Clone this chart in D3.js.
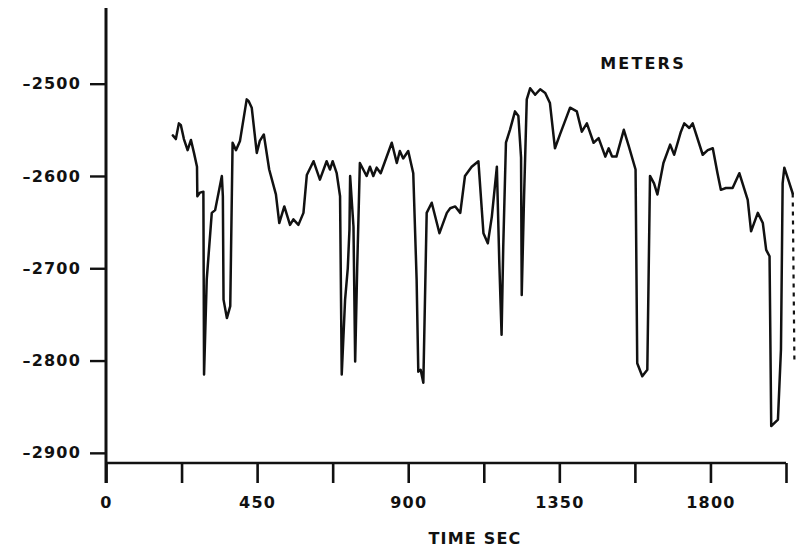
<!DOCTYPE html>
<html>
<head>
<meta charset="utf-8">
<script src="https://cdn.jsdelivr.net/npm/d3@7"></script>
<style>
  html, body { margin: 0; padding: 0; background: #fff; }
  svg { display: block; }
  text { font-family: "DejaVu Sans", sans-serif; font-weight: bold; fill: #111; }
</style>
</head>
<body>
<svg id="chart" width="801" height="553"></svg>
<script>
// ---- data ----
const timeSec = [199,208,217,223,232,243,253,262,271,272,280,290,292,300,315,325,345,348,350,360,370,377,387,399,419,425,434,449,458,470,486,506,516,531,548,558,573,588,598,618,637,657,667,675,687,697,702,712,720,725,727,737,742,748,756,766,776,786,796,806,818,831,851,866,875,885,900,915,925,930,937,945,955,970,993,1015,1025,1040,1055,1069,1089,1109,1124,1137,1149,1164,1171,1178,1183,1191,1203,1218,1228,1236,1238,1245,1253,1263,1278,1293,1308,1322,1337,1352,1382,1402,1417,1432,1452,1467,1487,1497,1507,1520,1542,1557,1577,1582,1597,1612,1620,1632,1642,1660,1680,1692,1712,1722,1737,1747,1777,1792,1807,1821,1831,1846,1866,1886,1911,1921,1941,1956,1966,1976,1981,2001,2010,2015,2020,2030,2045,2050];
const meters = [-2556,-2560,-2543,-2545,-2560,-2572,-2561,-2575,-2590,-2622,-2618,-2617,-2815,-2712,-2640,-2637,-2600,-2622,-2734,-2754,-2741,-2564,-2572,-2562,-2517,-2519,-2526,-2575,-2562,-2555,-2593,-2620,-2651,-2633,-2653,-2647,-2653,-2640,-2599,-2584,-2604,-2584,-2593,-2584,-2597,-2622,-2815,-2734,-2700,-2658,-2600,-2655,-2801,-2700,-2586,-2593,-2600,-2590,-2600,-2591,-2597,-2584,-2564,-2586,-2573,-2581,-2573,-2597,-2712,-2812,-2810,-2824,-2640,-2629,-2662,-2640,-2635,-2633,-2640,-2600,-2590,-2584,-2662,-2673,-2644,-2590,-2691,-2772,-2676,-2564,-2550,-2530,-2535,-2580,-2729,-2622,-2517,-2505,-2512,-2506,-2510,-2521,-2570,-2555,-2526,-2530,-2552,-2543,-2564,-2559,-2579,-2570,-2579,-2579,-2550,-2568,-2593,-2803,-2817,-2810,-2600,-2608,-2620,-2586,-2566,-2577,-2552,-2543,-2548,-2543,-2577,-2572,-2570,-2597,-2615,-2613,-2613,-2597,-2626,-2660,-2640,-2651,-2680,-2687,-2871,-2864,-2788,-2608,-2591,-2602,-2619,-2799];
const yTicks = [-2500, -2600, -2700, -2800, -2900];
const yTickLabels = ["\u20132500", "\u20132600", "\u20132700", "\u20132800", "\u20132900"];
const xTicks = [0, 225, 450, 675, 900, 1125, 1350, 1575, 1800, 2025];
const xTickLabels = ["0", "", "450", "", "900", "", "1350", "", "1800", ""];
const xTitle = "TIME SEC";
const seriesLabel = "METERS";

// ---- drawing ----
const svg = d3.select("#chart");
const x = d3.scaleLinear().domain([0, 2025]).range([106, 786]);
const y = d3.scaleLinear().domain([-2911, -2418]).range([463, 8]);

const ink = "#111";

// y axis
const yAxis = d3.axisLeft(y)
  .tickValues(yTicks)
  .tickFormat((d, i) => yTickLabels[i])
  .tickSize(16)
  .tickPadding(9);
const gy = svg.append("g").attr("transform", "translate(106,0)").call(yAxis);
gy.select(".domain").remove();
gy.selectAll(".tick line").attr("stroke", ink).attr("stroke-width", 2.4);
gy.selectAll(".tick text").style("font-size", "16px").style("letter-spacing", "1.2px").attr("fill", ink);
svg.append("line")
  .attr("x1", 106).attr("x2", 106)
  .attr("y1", 8).attr("y2", 483)
  .attr("stroke", ink).attr("stroke-width", 3);

// x axis
const xAxis = d3.axisBottom(x)
  .tickValues(xTicks)
  .tickFormat((d, i) => xTickLabels[i])
  .tickSize(20)
  .tickPadding(14);
const gx = svg.append("g").attr("transform", "translate(0,463)").call(xAxis);
gx.select(".domain").remove();
gx.selectAll(".tick line").attr("stroke", ink).attr("stroke-width", 2.6);
gx.selectAll(".tick text").style("font-size", "16px").style("letter-spacing", "1.2px").attr("fill", ink);
svg.append("line")
  .attr("x1", 106).attr("x2", 786)
  .attr("y1", 463).attr("y2", 463)
  .attr("stroke", ink).attr("stroke-width", 2.6);

// x title
svg.append("text")
  .attr("x", 475).attr("y", 544)
  .attr("text-anchor", "middle")
  .style("font-size", "16px")
  .style("letter-spacing", "1.2px")
  .text(xTitle);

// series label
svg.append("text")
  .attr("x", 643).attr("y", 69)
  .attr("text-anchor", "middle")
  .style("font-size", "16px")
  .style("letter-spacing", "2.2px")
  .text(seriesLabel);

// line (solid part, then dashed final drop)
const pts = timeSec.map((t, i) => [t, meters[i]]);
const line = d3.line().x(d => x(d[0])).y(d => y(d[1]));
svg.append("path")
  .datum(pts.slice(0, pts.length - 1))
  .attr("d", line)
  .attr("fill", "none")
  .attr("stroke", ink)
  .attr("stroke-width", 2.5)
  .attr("stroke-linejoin", "round")
  .attr("stroke-linecap", "round");
svg.append("path")
  .datum(pts.slice(pts.length - 2))
  .attr("d", line)
  .attr("fill", "none")
  .attr("stroke", ink)
  .attr("stroke-width", 2.2)
  .attr("stroke-dasharray", "4,5");
</script>
</body>
</html>
